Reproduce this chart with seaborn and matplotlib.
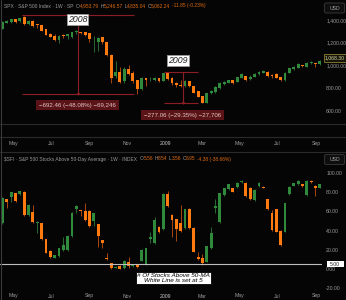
import numpy as np
import pandas as pd
import matplotlib
matplotlib.use("Agg")
import matplotlib.pyplot as plt
import matplotlib.dates as mdates
from matplotlib.lines import Line2D
from matplotlib.patches import Rectangle, FancyBboxPatch
import seaborn as sns

# ---------------- data ----------------
weeks = pd.date_range("2008-04-14", periods=75, freq="W-MON")

spx_open = [1323.5, 1376, 1382, 1409, 1389, 1424, 1365, 1391, 1360, 1356,
            1318, 1277, 1262, 1224, 1268, 1259, 1248, 1292, 1295, 1292,
            1283, 1248, 1209, 1248, 1204, 1092, 910, 946, 864, 967,
            932, 873, 794, 888, 879, 873, 888, 866, 932, 893,
            849, 829, 820, 866, 820, 776, 732, 673, 756, 764,
            800, 835, 849, 873, 859, 890, 908, 884, 899, 925,
            934, 943, 917, 925, 899, 873, 937, 969, 981, 1004,
            989, 1022, 1025, 1013, 1033]
spx_high = [1391, 1396, 1413, 1413, 1422, 1435, 1396, 1396, 1369, 1360,
            1321, 1286, 1277, 1264, 1277, 1281, 1299, 1312, 1299, 1295,
            1286, 1259, 1253, 1251, 1207, 1097, 1042, 984, 990, 1004,
            952, 877, 899, 890, 902, 902, 890, 934, 937, 899,
            855, 872, 873, 868, 824, 780, 736, 758, 785, 820,
            851, 864, 877, 877, 899, 934, 912, 917, 930, 952,
            960, 952, 925, 930, 903, 939, 982, 996, 1018, 1009,
            1031, 1040, 1026, 1048, 1079]
spx_low = [1321, 1374, 1378, 1374, 1382, 1360, 1360, 1343, 1327, 1303,
           1264, 1251, 1215, 1200, 1246, 1233, 1242, 1277, 1277, 1259,
           1207, 1121, 1130, 1189, 1088, 846, 890, 844, 844, 917,
           844, 749, 785, 820, 866, 864, 855, 864, 877, 829,
           808, 815, 815, 815, 758, 723, 667, 670, 749, 758,
           793, 829, 846, 837, 855, 886, 868, 873, 895, 921,
           930, 903, 890, 886, 868, 868, 934, 965, 978, 991,
           987, 1013, 987, 1009, 1031]
spx_close = [1382, 1391, 1409, 1382, 1415, 1365, 1391, 1347, 1356, 1306,
             1268, 1253, 1224, 1259, 1259, 1273, 1295, 1301, 1286, 1268,
             1236, 1253, 1239, 1204, 1092, 888, 946, 858, 967, 923,
             866, 794, 893, 873, 884, 888, 864, 932, 881, 844,
             829, 820, 866, 820, 761, 726, 673, 756, 776, 814,
             843, 858, 873, 844, 895, 925, 873, 902, 925, 946,
             954, 908, 908, 890, 873, 937, 978, 989, 1013, 996,
             1025, 1031, 1011, 1042, 1068.3]

sfi_open = [47.6, 72.6, 75.3, 78.9, 78.1, 80.5, 56.3, 59.1, 47.6, 47.6,
            30.9, 19.1, 11.8, 13.5, 19.8, 19.8, 34.4, 62.2, 61.5, 60.7,
            60.7, 50.3, 46.6, 30.2, 11.5, 5.9, 1.4, 3.4, 0.7, 7.6,
            3.1, 3.9, 8.6, 4.9, 31.8, 27.4, 44.1, 41.7, 77.8, 56.3,
            51.8, 47.6, 42.4, 62.5, 43.0, 12.8, 11.5, 7.6, 21.6, 63.2,
            49.3, 77.1, 83.3, 84.1, 85.1, 90.3, 89.9, 84.7, 71.9, 86.8,
            85.7, 72.6, 58.0, 62.2, 39.6, 38.9, 77.8, 86.8, 88.5, 88.5,
            77.1, 91.7, 86.8, 84.7, 90.6]
sfi_high = [75.0, 73.4, 80.7, 79.7, 81.8, 81.3, 67.7, 66.7, 50.0, 47.9,
            31.3, 19.8, 15.1, 22.4, 33.6, 35.4, 59.4, 66.7, 62.0, 69.1,
            61.5, 58.9, 46.9, 30.7, 16.7, 6.3, 3.0, 4.0, 9.0, 12.8,
            5.5, 5.2, 20.5, 22.2, 38.5, 54.5, 44.8, 79.0, 81.3, 57.0,
            52.5, 66.7, 63.0, 63.2, 43.5, 18.0, 15.6, 24.5, 44.1, 72.6,
            79.7, 84.8, 88.8, 84.8, 90.5, 92.7, 90.5, 85.3, 83.0, 90.6,
            86.2, 73.2, 61.5, 62.8, 40.2, 69.1, 86.4, 89.9, 92.3, 89.0,
            92.3, 92.3, 87.4, 89.1, 92.7]
sfi_low = [46.9, 63.2, 70.1, 70.3, 77.1, 55.7, 55.2, 47.9, 37.8, 30.2,
           16.7, 12.0, 11.5, 13.0, 18.8, 18.8, 33.3, 58.6, 55.2, 50.5,
           44.3, 44.8, 22.6, 21.6, 9.4, 0.3, 1.0, 0.0, 0.3, 0.7,
           2.5, 1.0, 8.0, 4.4, 27.1, 26.5, 37.5, 40.8, 65.0, 33.6,
           29.2, 38.8, 41.7, 41.7, 17.4, 9.8, 4.0, 7.0, 20.8, 58.0,
           48.5, 76.3, 82.5, 79.8, 84.4, 89.6, 75.6, 71.9, 71.2, 86.0,
           84.2, 61.5, 40.0, 38.2, 24.0, 38.2, 77.1, 86.1, 87.9, 85.9,
           76.4, 90.0, 76.4, 84.1, 90.0]
sfi_close = [73.6, 70.1, 79.9, 71.1, 81.3, 56.3, 66.7, 48.6, 49.3, 30.9,
             17.0, 12.8, 14.6, 21.6, 25.0, 34.4, 58.6, 65.6, 60.4, 51.0,
             44.8, 58.0, 34.4, 27.4, 10.4, 0.7, 2.4, 0.3, 8.3, 3.4,
             4.9, 2.4, 19.8, 21.6, 33.3, 51.0, 38.2, 78.1, 65.9, 51.0,
             41.7, 39.6, 62.2, 42.4, 18.0, 10.4, 6.6, 24.0, 37.2, 65.6,
             78.9, 84.1, 88.2, 80.5, 89.9, 92.0, 76.4, 72.6, 82.3, 89.9,
             84.7, 62.2, 40.6, 38.9, 24.7, 68.4, 85.7, 89.3, 91.7, 86.5,
             91.7, 90.6, 84.1, 88.5, 92.0]

spx_ticks = [600, 800, 1000, 1200, 1400]
sfi_ticks = [-20, 0, 20, 40, 60, 80, 100]
month_ticks = pd.to_datetime(["2008-05-01", "2008-07-01", "2008-09-01", "2008-11-01",
                              "2009-01-01", "2009-03-01", "2009-05-01", "2009-07-01",
                              "2009-09-01"])
month_labels = ["May", "Jul", "Sep", "Nov", "2009", "Mar", "May", "Jul", "Sep"]

# measured moves (price levels and dates)
m1_top, m1_bot = 1440.24, 747.78
m1_start, m1_end, m1_mid = "2008-05-15", "2008-11-11", "2008-08-13"
m1_text = "\u2212692.46 (\u221248.08%) \u221269,246"
m2_top, m2_bot = 943.97, 666.91
m2_start, m2_end, m2_mid = "2008-12-30", "2009-02-23", "2009-01-29"
m2_text = "\u2212277.06 (\u221229.35%) \u221227,706"
last_price = 1068.30
white_line = 5

# ---------------- style ----------------
BG = "#050505"
ORANGE = "#ff7b0f"
ORANGE_W = "#a8470c"
GREEN = "#2f8a3b"
GREEN_W = "#2a6a33"
RED = "#8c1d24"
GRAY_T = "#9a9a9a"
OR_T = "#e06a10"
SEP = "#2a2a2a"
FS = 3.7

sns.set_theme(style="dark", rc={"axes.facecolor": BG, "figure.facecolor": BG,
                                "axes.grid": False})
plt.rcParams["font.family"] = ["Liberation Sans", "DejaVu Sans"]

W, H = 346, 300
fig = plt.figure(figsize=(W / 100, H / 100), dpi=100)
ax1 = fig.add_axes([0, 1 - 124 / H, 322 / W, 124 / H])
ax2 = fig.add_axes([0, 1 - 291 / H, 322 / W, (291 - 152) / H])

xnum = mdates.date2num(weeks)
xmin = mdates.date2num(pd.Timestamp("2008-04-10"))
xmax = mdates.date2num(pd.Timestamp("2009-09-10 12:00"))


def candles(ax, o, h, l, c, minh):
    o, h, l, c = map(np.asarray, (o, h, l, c))
    up = c >= o
    wick_cols = [GREEN_W if u else ORANGE_W for u in up]
    body_cols = [GREEN if u else ORANGE for u in up]
    ax.vlines(xnum, l, h, colors=wick_cols, linewidth=0.7, zorder=2)
    bottoms = np.minimum(o, c)
    heights = np.maximum(np.abs(c - o), minh)
    ax.bar(xnum, heights, bottom=bottoms, width=4.6, color=body_cols, linewidth=0, zorder=3)


candles(ax1, spx_open, spx_high, spx_low, spx_close, 6)
candles(ax2, sfi_open, sfi_high, sfi_low, sfi_close, 0.8)

for ax, ylim, yt, xpad in [(ax1, (486, 1576), spx_ticks, 12.5),
                           (ax2, (-22.9, 122), sfi_ticks, 1.8)]:
    ax.set_xlim(xmin, xmax)
    ax.set_ylim(*ylim)
    for s in ax.spines.values():
        s.set_visible(False)
    ax.yaxis.tick_right()
    ax.set_yticks(yt)
    ax.set_yticklabels([f"{v:,.2f}" for v in yt])
    ax.set_xticks(mdates.date2num(month_ticks))
    ax.set_xticklabels(month_labels)
    ax.tick_params(axis="x", length=0, width=0, labelsize=FS, labelcolor=GRAY_T, pad=xpad)
    ax.tick_params(axis="y", length=0, width=0, labelsize=FS, labelcolor=GRAY_T, pad=3)
    ax.get_xticklabels()[4].set_color("#c8c8c8")

# ------------- titles (pieces laid out left to right) -------------
fig.canvas.draw()
R = fig.canvas.get_renderer()
TFS = 3.5


def text_w(s):
    t = fig.text(0, 0, s, fontsize=TFS)
    w = t.get_window_extent(renderer=R).width
    t.remove()
    return w


SPACE = text_w("x x") - text_w("xx")


def colored_title(pieces, y_px):
    x = 4.0
    for s, col, gap in pieces:
        x += gap * SPACE
        fig.text(x / W, 1 - y_px / H, s, color=col, fontsize=TFS, va="baseline", ha="left")
        x += text_w(s)


D = "\u00b7"
colored_title([(f"SPX {D} S&P 500 Index {D} 1W {D} SP", GRAY_T, 0), ("O", GRAY_T, 2),
               ("4,953.79", OR_T, 0), ("H", GRAY_T, 1), ("5,246.57", OR_T, 0),
               ("L", GRAY_T, 1), ("4,835.04", OR_T, 0), ("C", GRAY_T, 1),
               ("5,062.24", OR_T, 0), ("-11.85 (-0.23%)", OR_T, 1)], 7.5)
colored_title([(f"\\$SFI {D} S&P 500 Stocks Above 50-Day Average {D} 1W {D} INDEX", GRAY_T, 0),
               ("O", GRAY_T, 2), ("5.56", OR_T, 0), ("H", GRAY_T, 1), ("8.54", OR_T, 0),
               ("L", GRAY_T, 1), ("3.56", OR_T, 0), ("C", GRAY_T, 1), ("6.95", OR_T, 0),
               ("-4.38 (-38.66%)", OR_T, 1)], 160.5)

# ------------- measured moves -------------
def dn(s):
    return mdates.date2num(pd.Timestamp(s))


for top, bot, a, b, mid, txt, ylab in [
        (m1_top, m1_bot, m1_start, m1_end, m1_mid, m1_text, 653),
        (m2_top, m2_bot, m2_start, m2_end, m2_mid, m2_text, 565)]:
    ax1.hlines([top, bot], dn(a), dn(b), colors=RED, linewidth=0.8, zorder=4)
    ax1.vlines(dn(mid), bot, top, colors=RED, linewidth=0.8, zorder=4)
    ax1.plot([dn(mid)], [bot], marker="v", ms=2.2, color=RED, mew=0, zorder=4)
    ax1.text(dn(mid), ylab, txt, fontsize=4.4, color="#e2c4c4", ha="center", va="center",
             zorder=5, bbox=dict(boxstyle="square,pad=0.45", fc="#5a1417", ec="#5a1417", lw=0))

for yr, d, p in [("2008", "2008-08-13", 1404), ("2009", "2009-01-22", 1048)]:
    ax1.text(dn(d), p, yr, fontsize=6.3, style="italic", color="#202020", ha="center",
             va="center", zorder=6,
             bbox=dict(boxstyle="square,pad=0.12", fc="white", ec="#9a9a9a", lw=0.6))

# ------------- right side labels (explicit pixel boxes) -------------
def data_to_px_y(ax, v):
    return ax.transData.transform((xmin, v))[1]   # display pixels from bottom


def px_box(x0, yc, w, h, fc, ec, lw=0.6):
    fig.add_artist(Rectangle((x0 / W, (yc - h / 2) / H), w / W, h / H,
                             transform=fig.transFigure, facecolor=fc, edgecolor=ec,
                             linewidth=lw, zorder=5))


yc = data_to_px_y(ax1, last_price)
px_box(323.5, yc, 22, 7.5, "#15150a", "#8f8030")
fig.text(334.5 / W, yc / H, f"{last_price:,.2f}", fontsize=FS, color="#d8d8a0",
         ha="center", va="center", zorder=6)

ax2.axhline(white_line, color="#bdbdbd", linewidth=0.8, zorder=4)
yc = data_to_px_y(ax2, white_line)
px_box(326.5, yc, 17, 6.5, "white", "white", 0)
fig.text(335 / W, yc / H, f"{white_line:.2f}", fontsize=FS, color="#202020",
         ha="center", va="center", zorder=6)

ax2.text(dn("2009-01-14"), -9.6, "# Of Stocks Above 50-MA\nWhite Line is set at 5",
         fontsize=4.6, style="italic", color="black", ha="center", va="center",
         linespacing=1.1, zorder=6,
         bbox=dict(boxstyle="square,pad=0.15", fc="white", ec="black", lw=0.6))

for ypx in (8, 159.5):
    fig.add_artist(FancyBboxPatch(((324.5) / W, (H - ypx - 5) / H), 20 / W, 10 / H,
                                  boxstyle="round,pad=0,rounding_size=0.005",
                                  transform=fig.transFigure, facecolor="#0e0e0e",
                                  edgecolor="#3a3a3a", linewidth=0.6, zorder=5))
    fig.text(334.5 / W, 1 - ypx / H, "USD", fontsize=FS, color="#a0a0a0", ha="center",
             va="center", zorder=6)

# ------------- separators -------------
for ypx in (124, 137, 152):
    fig.add_artist(Line2D([0, 1], [1 - ypx / H, 1 - ypx / H], color=SEP, lw=0.8))
fig.add_artist(Line2D([0.5 / W, 0.5 / W], [0, 1], color="#3a3a3a", lw=0.8))

fig.savefig("out.png", dpi=100, facecolor=BG)
